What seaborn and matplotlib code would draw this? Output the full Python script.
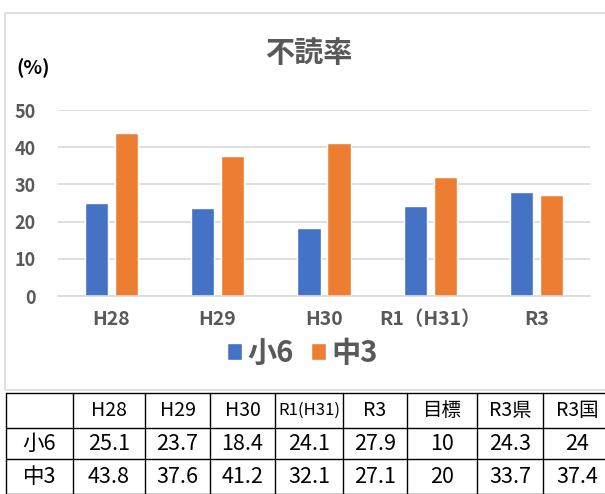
import matplotlib
matplotlib.use("Agg")
import matplotlib.pyplot as plt
import seaborn as sns
import pandas as pd
from matplotlib.patches import Rectangle

categories = ["H28", "H29", "H30", "R1（H31）", "R3"]
series_names = ["小6", "中3"]
sho6 = [25.1, 23.7, 18.4, 24.1, 27.9]
chu3 = [43.8, 37.6, 41.2, 32.1, 27.1]
table_cols = ["H28", "H29", "H30", "R1(H31)", "R3", "目標", "R3県", "R3国"]
table_sho6 = ["25.1", "23.7", "18.4", "24.1", "27.9", "10", "24.3", "24"]
table_chu3 = ["43.8", "37.6", "41.2", "32.1", "27.1", "20", "33.7", "37.4"]
yticks = [0, 10, 20, 30, 40, 50]

sns.set_theme(style="white")
plt.rcParams['font.family'] = ['Noto Sans CJK JP', 'DejaVu Sans']

W, H = 605, 494
fig = plt.figure(figsize=(W / 100, H / 100), dpi=100)
fig.patch.set_facecolor("white")

# chart frame
fig.patches.append(Rectangle((5 / W, 1 - 390 / H), 1.0, (390 - 13) / H, transform=fig.transFigure,
                             fill=False, edgecolor="#d9d9d9", linewidth=1.2))

df = pd.DataFrame({
    "cat": categories * 2,
    "val": sho6 + chu3,
    "grp": [series_names[0]] * len(categories) + [series_names[1]] * len(categories),
})

ax = fig.add_axes([58 / W, 1 - 296 / H, (590 - 58) / W, (296 - 110) / H])
sns.barplot(data=df, x="cat", y="val", hue="grp", palette=["#4472C4", "#ED7D31"],
            width=0.566, gap=0.23, ax=ax, legend=True, saturation=1)
ax.set_ylim(0, 50)
ax.set_xlim(-0.5, len(categories) - 0.5)
ax.set_yticks(yticks)
ax.yaxis.grid(True, color="#d9d9d9", linewidth=1.2)
ax.set_axisbelow(True)
for s in ["top", "right", "left"]:
    ax.spines[s].set_visible(False)
ax.spines["bottom"].set_color("#d9d9d9")
ax.spines["bottom"].set_linewidth(1.2)
ax.set_xlabel("")
ax.set_ylabel("")
ax.tick_params(axis="both", length=0, colors="#595959")
ax.tick_params(axis="x", pad=10, labelsize=14)
ax.tick_params(axis="y", pad=16, labelsize=13)
for t in ax.get_xticklabels() + ax.get_yticklabels():
    t.set_fontweight("bold")
    t.set_color("#595959")

leg = ax.legend(loc="center", bbox_to_anchor=(0.5, 1 - 353 / H), bbox_transform=fig.transFigure,
                ncol=2, frameon=False, handlelength=0.5, handleheight=0.5, handletextpad=0.2,
                columnspacing=0.6, prop={"weight": "bold", "size": 21})
for t in leg.get_texts():
    t.set_color("#595959")

fig.text(309 / W, 1 - 53 / H, "不読率", ha="center", va="center", fontsize=21,
         fontweight="bold", color="#595959")
fig.text(33 / W, 1 - 68 / H, "(%)", ha="center", va="center", fontsize=14,
         fontweight="bold", color="#000000")

# table
col_edges = [6, 73, 145, 210, 275, 343, 407, 477, 543, 612]
row_edges = [393, 428, 459, 494]
tax = fig.add_axes([0, 0, 1, 1], facecolor="none")
tax.set_xlim(0, W)
tax.set_ylim(H, 0)
tax.axis("off")
for x in col_edges[:-1]:
    tax.plot([x, x], [row_edges[0], row_edges[-1]], color="black", lw=1.0)
for y in row_edges:
    tax.plot([col_edges[0], W], [y, y], color="black", lw=1.0)
rows = [[""] + table_cols, [series_names[0]] + table_sho6, [series_names[1]] + table_chu3]
tfam = ['Liberation Sans Narrow', 'Noto Sans CJK JP', 'DejaVu Sans']
for r, row in enumerate(rows):
    yc = (row_edges[r] + row_edges[r + 1]) / 2
    for c, txt in enumerate(row):
        xc = (col_edges[c] + col_edges[c + 1]) / 2
        fs = 15.5 if r > 0 else 14
        if txt == "R1(H31)":
            fs = 12
        tax.text(xc, yc, txt, ha="center", va="center", fontsize=fs, color="black", family=tfam)

fig.savefig("out.png", dpi=100)
